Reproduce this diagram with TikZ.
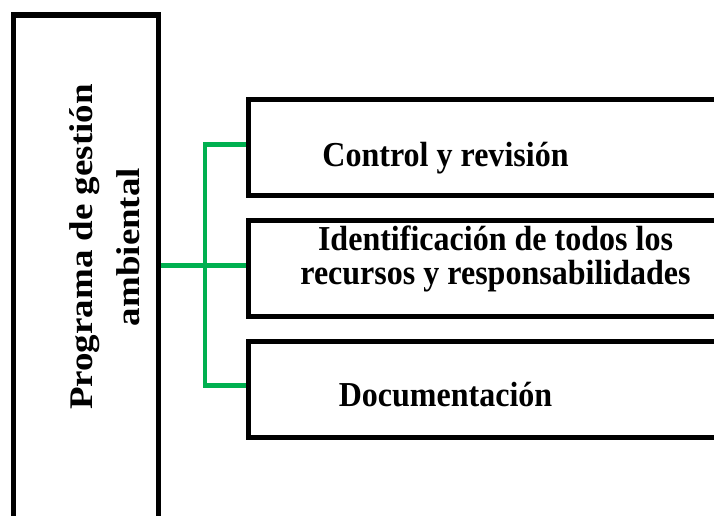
\documentclass[tikz,border=0pt]{standalone}
\usepackage{fontspec}
\setmainfont{Liberation Serif}
\newfontfamily\boxfont[FakeStretch=0.915]{Liberation Serif}
\newfontfamily\progfont[FakeStretch=1.12]{Liberation Serif}
\usetikzlibrary{positioning}
\definecolor{ramaverde}{HTML}{00B050}
\tikzset{
  caja/.style={draw=black,line width=5.5pt,rectangle,inner sep=0pt},
  rama/.style={draw=ramaverde,line width=4.5pt},
  textocaja/.style={font=\boxfont\bfseries\fontsize{35}{33.3}\selectfont,align=center,inner sep=0pt}
}
\begin{document}
\begin{tikzpicture}[x=1pt,y=-1pt]
        \useasboundingbox (0,0) rectangle (714,515);
        % caja grande de la izquierda
        \node[caja,minimum width=145pt,minimum height=520pt] (prog) at (86,275) {};
        \node[rotate=90,align=center,inner sep=0pt,font=\progfont\bfseries\fontsize{33}{47}\selectfont] (progtxt) at (104.6,247) {Programa de gestión\\ambiental};
        % cajas de la derecha
        \node[caja,minimum width=520pt,minimum height=96pt] (b1) at (508.5,147.5) {};
        \node[caja,minimum width=520pt,minimum height=96pt,below=19.5pt of b1] (b2) {};
        \node[caja,minimum width=520pt,minimum height=96pt,below=19.5pt of b2] (b3) {};
        \node[textocaja,anchor=base] (t1) at (445.5,166) {Control y revisión};
        \node[textocaja] (t2) at (495.5,259) {Identificación de todos los\\recursos y responsabilidades};
        \node[textocaja,anchor=base] (t3) at (445.5,406.7) {Documentación};
        % conectores verdes
        \coordinate (jn) at (205,265.5);
        \draw[rama] ([yshift=3pt]b1.west) -| (jn) |- ([yshift=4pt]b3.west);
        \draw[rama] (prog.east |- jn) -- (b2.west |- jn);
    \end{tikzpicture}
\end{document}
